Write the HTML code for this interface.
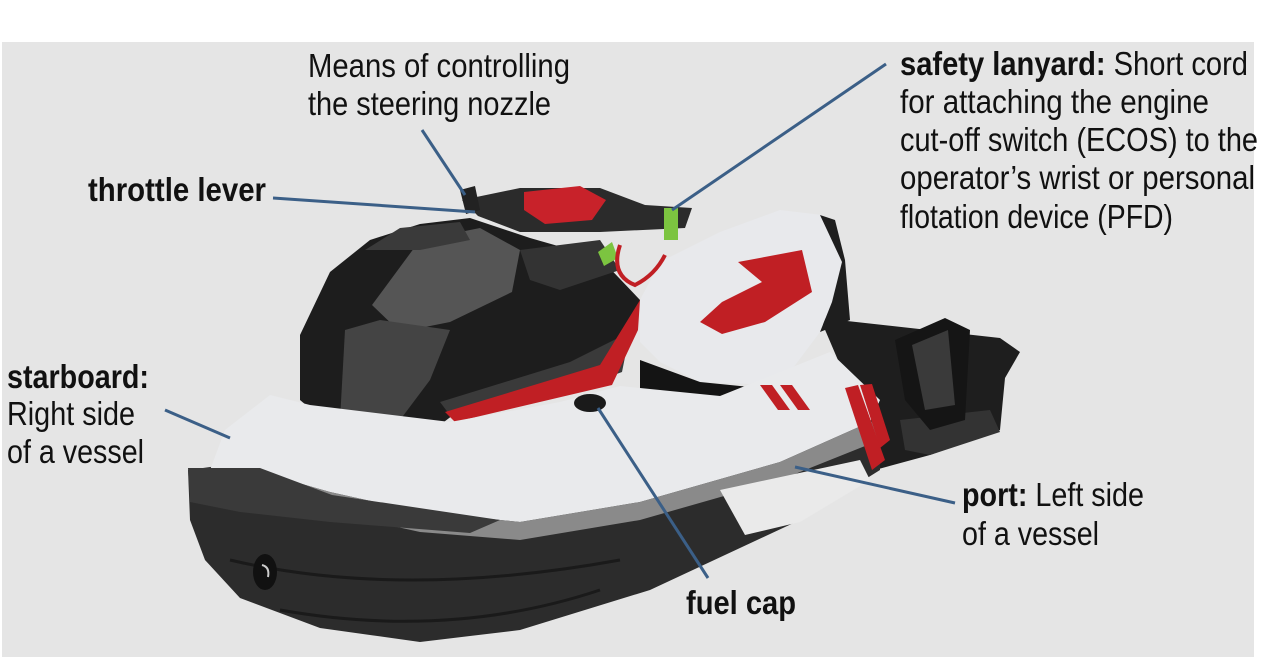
<!DOCTYPE html>
<html><head><meta charset="utf-8"><style>
html,body{margin:0;padding:0;background:#fff;}
svg{display:block;}
text{font-family:"Liberation Sans Narrow","Liberation Sans",sans-serif;font-size:33px;fill:#111;}
.b{font-weight:bold;}
</style></head><body>
<svg width="1263" height="657" viewBox="0 0 1263 657" xmlns="http://www.w3.org/2000/svg">
<rect x="0" y="0" width="1263" height="657" fill="#fff"/>
<rect x="2" y="42" width="1252" height="615" fill="#e5e5e5"/>

<!-- rear platform -->
<polygon points="820,318 1000,338 1020,352 1005,378 1000,430 930,455 875,470 855,400" fill="#1e1e1e"/>
<polygon points="900,420 990,410 1000,432 930,455 905,450" fill="#333"/>
<path d="M895,340 L945,318 L970,330 L965,420 L930,430 L905,400 Z" fill="#151515"/>
<path d="M912,345 L948,330 L955,405 L925,410 Z" fill="#3a3a3a"/>

<!-- hull -->
<polygon points="188,470 300,455 560,420 820,400 880,420 880,470 800,520 650,590 520,630 420,642 320,628 240,598 205,560 190,520" fill="#2c2c2c"/>
<path d="M230,560 Q400,600 620,560" stroke="#1a1a1a" stroke-width="3" fill="none"/>
<path d="M280,610 Q450,640 600,590" stroke="#1a1a1a" stroke-width="3" fill="none"/>
<ellipse cx="265" cy="572" rx="12" ry="18" fill="#111"/>
<path d="M262,565 q8,2 6,12" stroke="#ccc" stroke-width="2" fill="none"/>

<!-- hood black -->
<polygon points="300,335 330,272 370,240 420,224 470,218 530,238 600,258 640,300 630,335 570,372 470,402 440,425 330,425 300,400" fill="#1d1d1d"/>
<polygon points="372,305 420,240 480,228 520,250 512,292 450,322 400,332" fill="#555"/>
<polygon points="345,330 380,320 450,330 430,380 400,420 340,420" fill="#444"/>
<polygon points="365,250 400,228 460,222 470,240 420,250" fill="#3a3a3a"/>
<!-- grille -->
<polygon points="440,402 570,362 630,332 622,372 560,395 452,418" fill="#3a3a3a"/>
<!-- red trim -->
<polygon points="445,412 600,365 640,300 638,330 612,385 455,422" fill="#c01f24"/>

<!-- handlebar -->
<polygon points="462,200 520,188 600,188 645,205 692,208 685,228 600,232 520,232 478,216" fill="#2b2b2b"/>
<polygon points="524,192 580,186 606,200 592,220 545,224 524,210" fill="#c8222a"/>
<polygon points="460,190 475,186 480,210 466,214" fill="#222"/>
<polygon points="520,250 600,240 620,270 560,290 530,280" fill="#333"/>

<!-- seat -->
<polygon points="640,300 660,262 720,232 780,210 822,215 842,262 832,302 820,332 790,372 750,384 700,382 660,362 640,342" fill="#e8e9ec"/>
<polygon points="738,262 802,250 812,292 765,322 722,334 700,322 722,302 762,282" fill="#c01f24"/>
<polygon points="640,360 700,382 760,388 772,405 700,405 640,400" fill="#141414"/>
<polygon points="820,215 842,262 832,302 820,332 850,320 845,260 835,220" fill="#1e1e1e"/>
<!-- lanyard -->
<rect x="664" y="208" width="14" height="32" fill="#7cc440"/>
<polygon points="598,252 612,242 618,258 604,266" fill="#7cc440"/>
<path d="M620,245 q-10,30 15,40 q20,-10 30,-30" stroke="#c01f24" stroke-width="4" fill="none"/>

<!-- white deck -->
<polygon points="210,470 225,430 270,395 310,405 450,422 560,402 620,386 720,396 830,352 880,400 870,422 780,462 640,502 520,522 420,512 330,492 260,472" fill="#e9eaec"/>
<polygon points="260,472 330,492 420,512 520,522 640,502 780,462 870,422 880,420 880,440 780,480 640,520 520,540 420,532 330,512 260,490" fill="#8a8a8a"/>
<polygon points="720,490 860,460 870,480 800,522 745,535" fill="#eaeaea"/>
<!-- red stripes -->
<polygon points="760,385 772,385 790,410 778,410" fill="#c01f24"/>
<polygon points="780,385 792,385 810,410 798,410" fill="#c01f24"/>
<polygon points="845,388 858,385 885,460 872,470" fill="#c01f24"/>
<polygon points="860,385 872,384 890,440 880,448" fill="#c01f24"/>
<!-- front bumper -->
<polygon points="188,468 260,468 332,495 500,520 470,533 330,522 240,512 190,502" fill="#3a3a3a"/>
<!-- fuel cap -->
<ellipse cx="590" cy="403" rx="16" ry="9" fill="#1a1a1a"/>

<!-- connectors -->
<g stroke="#3b5f87" stroke-width="3" fill="none">
<line x1="422" y1="130" x2="465" y2="195"/>
<line x1="273" y1="198" x2="475" y2="212"/>
<line x1="886" y1="64" x2="672" y2="210"/>
<line x1="165" y1="410" x2="230" y2="438"/>
<line x1="955" y1="503" x2="795" y2="467"/>
<line x1="598" y1="408" x2="708" y2="578"/>
</g>

<!-- labels -->
<text x="308" y="77" textLength="262" lengthAdjust="spacingAndGlyphs">Means of controlling</text>
<text x="308" y="115" textLength="243" lengthAdjust="spacingAndGlyphs">the steering nozzle</text>
<text class="b" x="88" y="201" textLength="178" lengthAdjust="spacingAndGlyphs">throttle lever</text>
<text x="900" y="75" textLength="348" lengthAdjust="spacingAndGlyphs"><tspan class="b">safety lanyard:</tspan> Short cord</text>
<text x="900" y="113" textLength="309" lengthAdjust="spacingAndGlyphs">for attaching the engine</text>
<text x="900" y="151" textLength="358" lengthAdjust="spacingAndGlyphs">cut-off switch (ECOS) to the</text>
<text x="900" y="189" textLength="355" lengthAdjust="spacingAndGlyphs">operator’s wrist or personal</text>
<text x="900" y="228" textLength="273" lengthAdjust="spacingAndGlyphs">flotation device (PFD)</text>
<text class="b" x="7" y="388" textLength="142" lengthAdjust="spacingAndGlyphs">starboard:</text>
<text x="7" y="425" textLength="128" lengthAdjust="spacingAndGlyphs">Right side</text>
<text x="7" y="463" textLength="137" lengthAdjust="spacingAndGlyphs">of a vessel</text>
<text x="962" y="506" textLength="182" lengthAdjust="spacingAndGlyphs"><tspan class="b">port:</tspan> Left side</text>
<text x="962" y="545" textLength="137" lengthAdjust="spacingAndGlyphs">of a vessel</text>
<text class="b" x="686" y="614" textLength="110" lengthAdjust="spacingAndGlyphs">fuel cap</text>
</svg>
</body></html>
